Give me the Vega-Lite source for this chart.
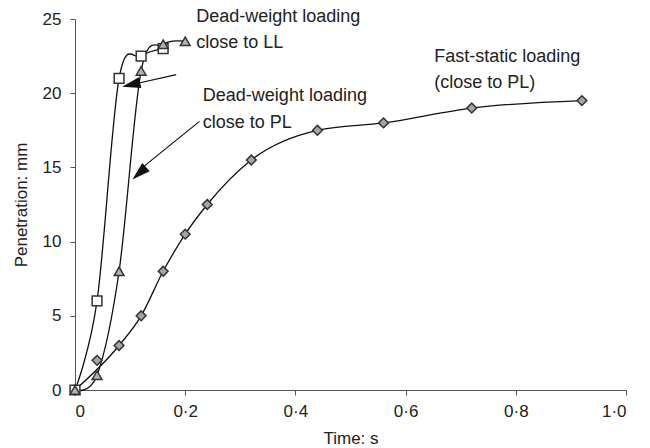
{
  "$schema": "https://vega.github.io/schema/vega-lite/v6.json",
  "width": 551,
  "height": 371,
  "autosize": "none",
  "padding": {"left": 75, "top": 19, "right": 24, "bottom": 58},
  "background": "white",
  "config": {
    "view": {"stroke": null},
    "font": "Liberation Sans",
    "axis": {
      "grid": false,
      "domainColor": "#555",
      "tickColor": "#555",
      "tickSize": 5,
      "labelFont": "Liberation Sans",
      "titleFont": "Liberation Sans",
      "labelFontSize": 17,
      "titleFontSize": 17,
      "titleFontWeight": "normal",
      "labelColor": "#222",
      "titleColor": "#222"
    }
  },
  "datasets": {
    "points": [
      {"series": "Fast-static loading (close to PL)", "t": 0, "p": 0},
      {"series": "Fast-static loading (close to PL)", "t": 0.04, "p": 2},
      {"series": "Fast-static loading (close to PL)", "t": 0.08, "p": 3},
      {"series": "Fast-static loading (close to PL)", "t": 0.12, "p": 5},
      {"series": "Fast-static loading (close to PL)", "t": 0.16, "p": 8},
      {"series": "Fast-static loading (close to PL)", "t": 0.2, "p": 10.5},
      {"series": "Fast-static loading (close to PL)", "t": 0.24, "p": 12.5},
      {"series": "Fast-static loading (close to PL)", "t": 0.32, "p": 15.5},
      {"series": "Fast-static loading (close to PL)", "t": 0.44, "p": 17.5},
      {"series": "Fast-static loading (close to PL)", "t": 0.56, "p": 18},
      {"series": "Fast-static loading (close to PL)", "t": 0.72, "p": 19},
      {"series": "Fast-static loading (close to PL)", "t": 0.92, "p": 19.5},
      {"series": "Dead-weight loading close to LL", "t": 0, "p": 0},
      {"series": "Dead-weight loading close to LL", "t": 0.04, "p": 6},
      {"series": "Dead-weight loading close to LL", "t": 0.08, "p": 21},
      {"series": "Dead-weight loading close to LL", "t": 0.12, "p": 22.5},
      {"series": "Dead-weight loading close to LL", "t": 0.16, "p": 23},
      {"series": "Dead-weight loading close to PL", "t": 0, "p": 0},
      {"series": "Dead-weight loading close to PL", "t": 0.04, "p": 1},
      {"series": "Dead-weight loading close to PL", "t": 0.08, "p": 8},
      {"series": "Dead-weight loading close to PL", "t": 0.12, "p": 21.5},
      {"series": "Dead-weight loading close to PL", "t": 0.16, "p": 23.3},
      {"series": "Dead-weight loading close to PL", "t": 0.2, "p": 23.5}
    ],
    "labels": [
      {"t": 0.22, "p": 24.83, "label": "Dead-weight loading"},
      {"t": 0.22, "p": 23.06, "label": "close to LL"},
      {"t": 0.232, "p": 19.45, "label": "Dead-weight loading"},
      {"t": 0.232, "p": 17.66, "label": "close to PL"},
      {"t": 0.652, "p": 22.1, "label": "Fast-static loading"},
      {"t": 0.652, "p": 20.35, "label": "(close to PL)"}
    ],
    "arrows": [
      {"t": 0.1837, "p": 21.25, "t2": 0.1, "p2": 20.55, "ht": 0.1018, "hp": 20.58, "angle": 257},
      {"t": 0.226, "p": 18.1, "t2": 0.116, "p2": 14.8, "ht": 0.1165, "hp": 14.6, "angle": 228}
    ]
  },
  "encoding": {
    "x": {
      "field": "t", "type": "quantitative",
      "scale": {"domain": [0, 1], "nice": false},
      "axis": {
        "title": "Time: s",
        "values": [0, 0.2, 0.4, 0.6, 0.8, 1.0],
        "labelExpr": "datum.value == 0 ? '0' : replace(format(datum.value, '.1f'), '.', '·')",
        "labelPadding": 8,
        "titlePadding": 11
      }
    },
    "y": {
      "field": "p", "type": "quantitative",
      "scale": {"domain": [0, 25], "nice": false},
      "axis": {
        "title": "Penetration: mm",
        "values": [0, 5, 10, 15, 20, 25],
        "labelPadding": 9,
        "titlePadding": 12
      }
    }
  },
  "layer": [
    {
      "data": {"name": "points"},
      "transform": [{"filter": "datum.series != 'Fast-static loading (close to PL)'"}],
      "mark": {"type": "line", "interpolate": "cardinal", "color": "#111", "strokeWidth": 1.3},
      "encoding": {"detail": {"field": "series"}}
    },
    {
      "data": {"name": "points"},
      "transform": [{"filter": "datum.series == 'Fast-static loading (close to PL)' && datum.t != 0.04"}],
      "mark": {"type": "line", "interpolate": "monotone", "color": "#111", "strokeWidth": 1.3},
      "encoding": {}
    },
    {
      "data": {"name": "arrows"},
      "mark": {"type": "rule", "color": "#111", "strokeWidth": 1.2},
      "encoding": {
        "x2": {"field": "t2"},
        "y2": {"field": "p2"}
      }
    },
    {
      "data": {"name": "arrows"},
      "mark": {"type": "point", "shape": "M0,-1L0.6,1L-0.6,1Z", "filled": true, "color": "#111", "size": 340, "opacity": 1},
      "encoding": {
        "x": {"field": "ht", "type": "quantitative"},
        "y": {"field": "hp", "type": "quantitative"},
        "angle": {"field": "angle", "type": "quantitative", "scale": null}
      }
    },
    {
      "data": {"name": "points"},
      "mark": {"type": "point", "size": 95, "strokeWidth": 1.5, "opacity": 1, "filled": false},
      "encoding": {
        "shape": {
          "field": "series", "type": "nominal", "legend": null,
          "scale": {
            "domain": ["Fast-static loading (close to PL)", "Dead-weight loading close to LL", "Dead-weight loading close to PL"],
            "range": ["diamond", "square", "triangle-up"]
          }
        },
        "fill": {
          "field": "series", "type": "nominal", "legend": null,
          "scale": {
            "domain": ["Fast-static loading (close to PL)", "Dead-weight loading close to LL", "Dead-weight loading close to PL"],
            "range": ["#a6a6a6", "#ffffff", "#b3b3b3"]
          }
        },
        "stroke": {"value": "#333"},
        "fillOpacity": {"value": 1}
      }
    },
    {
      "data": {"name": "labels"},
      "mark": {"type": "text", "align": "left", "baseline": "alphabetic", "fontSize": 18, "color": "#222", "font": "Liberation Sans"},
      "encoding": {"text": {"field": "label"}}
    }
  ]
}
